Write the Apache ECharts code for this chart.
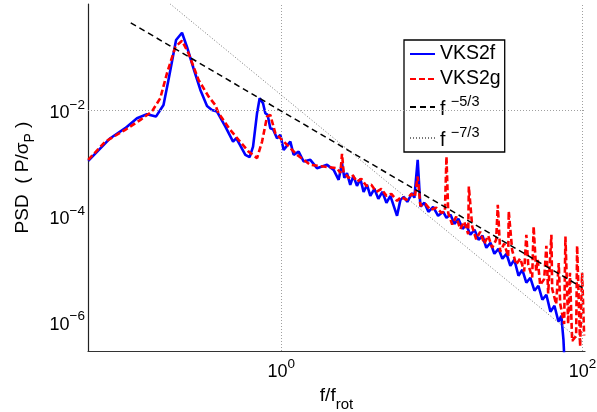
<!DOCTYPE html>
<html>
<head>
<meta charset="utf-8">
<script src="https://cdn.jsdelivr.net/npm/echarts@6/dist/echarts.min.js"></script>
<style>html,body{margin:0;padding:0;background:#fff}#c{width:597px;height:412px}</style>
</head>
<body>
<div id="c"></div>
<script>
// ---- data ----
const blueF = [
0.0522,0.0731,0.0919,0.110,0.128,0.147,0.165,0.178,0.200,0.219,
0.236,0.261,0.290,0.321,0.346,0.374,0.425,0.478,0.502,0.577,
0.616,0.649,0.690,0.718,0.756,0.783,0.811,0.845,0.881,0.936,
0.985,1.036,1.148,1.207,1.303,1.407,1.559,1.726,2.012,2.227,
2.403,2.53,2.62,2.73,2.87,3.01,3.18,3.35,3.52,3.71,
3.90,4.15,4.41,4.69,4.99,5.30,5.55,5.87,6.18,6.50,
6.87,7.39,7.65,8.05,8.39,8.92,9.48,10.2,11.0,11.9,
12.5,13.3,14.1,15.0,16.0,16.9,18.0,19.2,20.4,21.7,
23.0,24.5,26.0,27.7,29.4,31.3,33.2,35.3,37.6,39.9,
42.4,45.1,48.0,51.0,54.2,57.6,61.3,65.2,69.3,72.4,
74.8,75.9];
const blueP = [
1.09e-3,2.92e-3,4.52e-3,6.97e-3,8.30e-3,7.48e-3,1.24e-2,3.68e-2,0.209,0.287,
0.156,6.12e-2,2.38e-2,1.19e-2,1.0e-2,9.29e-3,4.84e-3,2.52e-3,2.92e-3,1.42e-3,
1.28e-3,2.03e-3,8.66e-3,1.66e-2,1.34e-2,8.66e-3,8.05e-3,4.52e-3,4.33e-3,2.92e-3,
3.38e-3,1.76e-3,2.52e-3,1.42e-3,1.63e-3,1.06e-3,1.14e-3,7.94e-4,9.17e-4,7.38e-4,
4.78e-4,9.87e-4,5.21e-4,6.40e-4,3.85e-4,5.69e-4,3.68e-4,4.99e-4,2.84e-4,3.85e-4,
2.38e-4,3.23e-4,2.09e-4,2.84e-4,1.76e-4,2.38e-4,1.61e-4,1.0e-4,2.00e-4,2.28e-4,
1.84e-4,2.68e-4,2.19e-4,1.14e-3,1.50e-4,1.76e-4,1.19e-4,1.48e-4,1.0e-4,1.19e-4,
9.17e-5,1.05e-4,7.06e-5,8.77e-5,5.69e-5,6.76e-5,4.39e-5,5.45e-5,3.52e-5,4.20e-5,
2.49e-5,3.10e-5,1.92e-5,2.38e-5,1.55e-5,1.92e-5,1.14e-5,1.48e-5,7.38e-6,9.57e-6,
5.45e-6,6.76e-6,3.85e-6,4.78e-6,2.60e-6,3.23e-6,1.55e-6,2.00e-6,1.0e-6,1.30e-6,
4.57e-7,1.92e-7];

const redF = [
0.0522,0.0677,0.0919,0.116,0.138,0.157,0.174,0.198,0.219,0.242,
0.282,0.329,0.364,0.383,0.458,0.520,0.606,0.690,0.745,0.804,
0.845,0.912,1.063,1.271,1.559,1.910,2.344,2.47,2.53,2.59,
2.79,2.96,3.18,3.40,3.67,3.96,4.28,4.62,4.99,5.38,
5.87,6.27,6.77,7.31,7.71,8.05,8.39,9.06,9.77,10.7,
11.6,12.2,12.5,12.84,13.65,14.51,15.43,16.40,17.43,17.6,
18.53,19.70,20.94,22.26,23.66,25.16,26.74,27.4,28.43,30.22,
32.13,32.4,34.15,36.30,38.60,41.03,42.4,43.62,46.37,47.4,
49.29,50.5,52.40,55.70,57.6,59.21,62.2,62.94,66.91,69.6,
71.12,75.60,77.1,80.37,82.6,85.43,90.82,92.2,96.54,99.5,
102.6];
const redP = [
1.14e-3,2.52e-3,4.20e-3,6.48e-3,9.29e-3,1.66e-2,4.92e-2,0.156,0.202,0.117,
3.68e-2,1.78e-2,1.24e-2,8.66e-3,4.20e-3,2.72e-3,1.63e-3,1.23e-3,2.52e-3,7.48e-3,
8.05e-3,3.63e-3,2.36e-3,1.42e-3,9.17e-4,8.51e-4,7.94e-4,6.47e-4,1.48e-3,6.85e-4,
5.21e-4,5.94e-4,4.39e-4,4.99e-4,3.68e-4,3.85e-4,2.84e-4,3.23e-4,2.38e-4,2.60e-4,
1.92e-4,2.28e-4,2.00e-4,2.60e-4,2.28e-4,5.52e-4,1.55e-4,1.68e-4,1.30e-4,1.42e-4,
1.14e-4,1.19e-4,1.32e-3,1.13e-4,6.86e-5,9.66e-5,5.61e-5,7.76e-5,4.51e-5,3.57e-4,
6.25e-5,3.61e-5,5.00e-5,2.97e-5,4.21e-5,2.49e-5,3.55e-5,1.61e-4,2.10e-5,2.98e-5,
1.71e-5,1.21e-4,2.23e-5,1.21e-5,1.57e-5,8.93e-6,4.39e-5,1.21e-5,6.87e-6,6.28e-5,
9.06e-6,1.48e-5,4.92e-6,6.38e-6,2.72e-5,3.41e-6,4.39e-5,4.19e-6,2.15e-6,1.28e-5,
2.21e-6,9.08e-7,4.06e-5,9.08e-7,8.41e-6,4.34e-7,5.40e-7,2.72e-5,3.41e-7,8.41e-6,
5.51e-7];

// reference power laws (end points)
const slope53F = [0.1, 100];
const slope53P = [0.441, 4.41e-6];
const slope73F = [0.1, 100];
const slope73P = [4.1, 4.1e-7];

const xTicks = [1, 100];
const yTicks = [1e-2, 1e-4, 1e-6];
const seriesNames = ['VKS2f', 'VKS2g', 'f−5/3', 'f−7/3'];

// ---- chart ----
const FONT = 'Liberation Sans, Arial, Helvetica, sans-serif';
const pairs = (a, b) => a.map((v, i) => [v, b[i]]);
const expLabel = (ticks) => (v) => {
  const e = Math.round(Math.log10(v));
  if (!ticks.some(t => Math.round(Math.log10(t)) === e)) return '';
  return '{b|10}{s|' + (e < 0 ? '−' : '') + Math.abs(e) + '}';
};
const labelRich = {
  b: { fontSize: 18, fontFamily: FONT, color: '#000', verticalAlign: 'bottom' },
  s: { fontSize: 13.5, fontFamily: FONT, color: '#000', verticalAlign: 'bottom', padding: [0, 0, 10, 0] }
};
const gridLine = { color: '#a0a0a0', width: 1, type: [1, 2] };

const chart = echarts.init(document.getElementById('c'), null, { renderer: 'canvas' });
chart.setOption({
  animation: false,
  backgroundColor: '#fff',
  grid: { left: 88, top: 4, right: 12, bottom: 61, containLabel: false, outerBoundsMode: 'none' },
  xAxis: {
    type: 'log', logBase: 10, min: 0.052, max: 104,
    axisLine: { show: true, onZero: false, lineStyle: { color: '#333', width: 1.2 } },
    axisTick: { show: false },
    splitLine: { show: false },
    minorTick: { show: false },
    axisLabel: { formatter: expLabel(xTicks), margin: 6, rich: labelRich },
    name: '{a|f/f}{b|rot}', nameLocation: 'middle', nameGap: 29,
    nameTextStyle: {
      rich: {
        a: { fontSize: 19, fontFamily: FONT, color: '#000', verticalAlign: 'top' },
        b: { fontSize: 15, fontFamily: FONT, color: '#000', verticalAlign: 'top', padding: [11, 0, 0, 0] }
      }
    }
  },
  yAxis: {
    type: 'log', logBase: 10, min: 2.8e-7, max: 1,
    axisLine: { show: true, onZero: false, lineStyle: { color: '#222', width: 1.2 } },
    axisTick: { show: false },
    splitLine: { show: false },
    axisLabel: { formatter: expLabel(yTicks), margin: 3, rich: labelRich },
    name: '{a|PSD  ( P/σ}{b|P}{a| )}', nameLocation: 'middle', nameRotate: 90, nameGap: 51,
    nameTextStyle: {
      rich: {
        a: { fontSize: 19, fontFamily: FONT, color: '#000', verticalAlign: 'top' },
        b: { fontSize: 14, fontFamily: FONT, color: '#000', verticalAlign: 'top', padding: [10, 0, 0, 0] }
      }
    }
  },
  legend: {
    data: seriesNames,
    orient: 'vertical', left: 404, top: 40,
    itemWidth: 25, itemHeight: 14, itemGap: 5,
    padding: [4, 4, 1, 5],
    backgroundColor: '#fff', borderColor: '#000', borderWidth: 1.3, borderRadius: 0,
    itemStyle: { opacity: 0 },
    formatter: (name) => name.charAt(0) === 'f'
      ? '{b|f }{s|' + name.slice(1) + '}'
      : '{b|' + name + '}',
    textStyle: {
      fontSize: 19.5, fontFamily: FONT, color: '#000',
      rich: {
        b: { fontSize: 19.5, fontFamily: FONT, color: '#000', verticalAlign: 'bottom' },
        s: { fontSize: 14.5, fontFamily: FONT, color: '#000', verticalAlign: 'bottom', padding: [0, 0, 11, 0] }
      }
    }
  },
  series: [
    {
      name: 'grid', type: 'line', data: [], silent: true, z: 1,
      markLine: {
        silent: true, symbol: ['none', 'none'], label: { show: false },
        lineStyle: gridLine, animation: false,
        data: xTicks.map(v => ({ xAxis: v })).concat(yTicks.map(v => ({ yAxis: v })))
      }
    },
    {
      name: seriesNames[0], type: 'line', data: pairs(blueF, blueP),
      showSymbol: false, symbol: 'none', clip: true, z: 3,
      lineStyle: { color: '#0000ff', width: 2.6 }, itemStyle: { color: '#0000ff' }
    },
    {
      name: seriesNames[1], type: 'line', data: pairs(redF, redP),
      showSymbol: false, symbol: 'none', clip: true, z: 4,
      lineStyle: { color: '#ff0000', width: 2.6, type: [6, 3] }, itemStyle: { color: '#ff0000' }
    },
    {
      name: seriesNames[2], type: 'line', data: pairs(slope53F, slope53P),
      showSymbol: false, symbol: 'none', clip: true, z: 5,
      lineStyle: { color: '#000', width: 1.5, type: [6, 4] }, itemStyle: { color: '#000' }
    },
    {
      name: seriesNames[3], type: 'line', data: pairs(slope73F, slope73P),
      showSymbol: false, symbol: 'none', clip: true, z: 5,
      lineStyle: { color: '#777', width: 1, type: [1, 2] }, itemStyle: { color: '#777' }
    }
  ]
});
</script>
</body>
</html>
